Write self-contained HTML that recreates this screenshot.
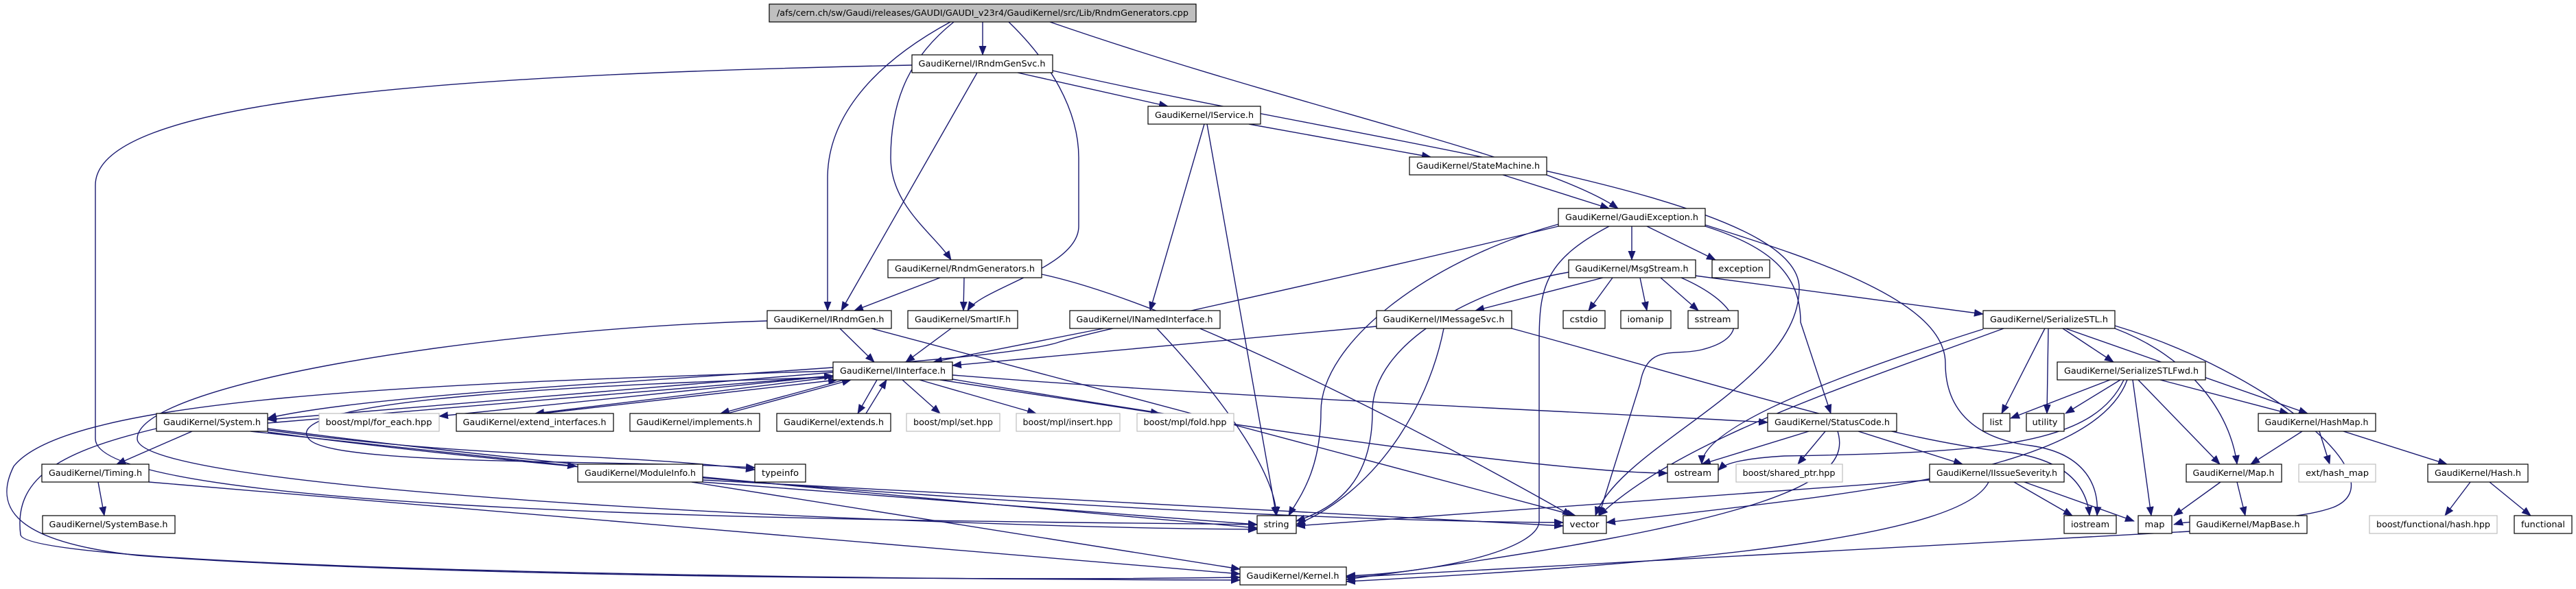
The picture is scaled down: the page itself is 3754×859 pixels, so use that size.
<!DOCTYPE html>
<html><head><meta charset="utf-8"><style>
html,body{margin:0;padding:0;background:#fff;}
svg{display:block}
text{font-family:"DejaVu Sans","Liberation Sans",sans-serif;font-size:12px;fill:#000;}
.e{fill:none;stroke:#191970;stroke-width:1.4;marker-end:url(#a);}
.n{fill:#fff;stroke:#000;stroke-width:1.2;}
.g{fill:#fff;stroke:#bfbfbf;stroke-width:1.2;}
.r{fill:#bfbfbf;stroke:#000;stroke-width:1.2;}
</style></head><body>
<svg width="3754" height="859" viewBox="0 0 3754 859" xmlns="http://www.w3.org/2000/svg">
<defs><marker id="a" markerUnits="userSpaceOnUse" markerWidth="14" markerHeight="11" refX="13" refY="5.5" orient="auto"><path d="M0,0 L14,5.5 L0,11 z" fill="#191970"/></marker></defs>
<g>
<path class="e" d="M1432,32 L1432,80"/>
<path class="e" d="M1385,32 C1260,100 1206,180 1206,260 L1206,453"/>
<path class="e" d="M1390,32 C1330,80 1298,140 1298,230 C1298,300 1360,340 1386,379"/>
<path class="e" d="M1470,32 C1530,90 1572,160 1572,230 L1572,330 C1572,390 1430,420 1410,453"/>
<path class="e" d="M1530,32 C1900,160 2250,230 2358,304"/>
<path class="e" d="M1329,95 C600,110 139,150 139,270 L139,640 C139,760 1500,760 1832,765"/>
<path class="e" d="M1424,106 L1226,453"/>
<path class="e" d="M1483,106 L1702,155"/>
<path class="e" d="M1534,103 C2000,210 2622,280 2622,420 C2622,560 2360,650 2325,752"/>
<path class="e" d="M1820,181 L2085,229"/>
<path class="e" d="M1755,181 L1676,453"/>
<path class="e" d="M1759,181 L1860,752"/>
<path class="e" d="M2190,255 L2345,304"/>
<path class="e" d="M2378,330 L2378,379"/>
<path class="e" d="M2400,330 L2500,379"/>
<path class="e" d="M2271,327 C2080,380 1925,500 1925,600 C1925,690 1890,730 1878,752"/>
<path class="e" d="M2271,330 C1900,420 1600,480 1540,500 C1400,540 600,560 390,610"/>
<path class="e" d="M2485,330 C2580,360 2624,400 2624,470 L2668,603"/>
<path class="e" d="M2485,328 C2650,380 2835,440 2835,530 C2835,600 2880,640 2960,650 C3030,660 3060,700 3056,752"/>
<path class="e" d="M2345,330 C2250,380 2243,420 2243,500 L2243,760 C2243,800 2100,835 1962,840"/>
<path class="e" d="M2350,405 L2315,453"/>
<path class="e" d="M2390,405 L2400,453"/>
<path class="e" d="M2420,405 L2475,453"/>
<path class="e" d="M2336,405 L2150,453"/>
<path class="e" d="M2470,402 L2890,458"/>
<path class="e" d="M2286,397 C2150,420 2000,500 2000,600 C2000,700 1950,740 1889,760"/>
<path class="e" d="M2450,405 C2530,440 2560,490 2480,510 C2440,520 2400,500 2390,560 L2330,752"/>
<path class="e" d="M2203,479 C2500,560 2750,640 2930,660 C3000,670 3040,700 3045,752"/>
<path class="e" d="M2006,476 L1388,533"/>
<path class="e" d="M2104,479 C2080,600 2000,720 1889,765"/>
<path class="e" d="M1608,479 L1360,528"/>
<path class="e" d="M1686,479 C1800,600 1860,700 1860,752"/>
<path class="e" d="M1370,405 L1245,453"/>
<path class="e" d="M1405,405 L1404,453"/>
<path class="e" d="M1518,400 C1750,450 2200,700 2290,752"/>
<path class="e" d="M1224,479 L1274,528"/>
<path class="e" d="M1118,468 C700,480 200,560 200,640 C200,720 1400,770 1832,772"/>
<path class="e" d="M1270,479 L2296,752"/>
<path class="e" d="M1386,479 L1320,528"/>
<path class="e" d="M1214,543 L390,612"/>
<path class="e" d="M390,617 L1214,548"/>
<path class="e" d="M1214,548 L640,607"/>
<path class="e" d="M1214,550 L780,603"/>
<path class="e" d="M790,603 L1220,554"/>
<path class="e" d="M1230,554 L1050,603"/>
<path class="e" d="M1060,603 L1240,554"/>
<path class="e" d="M1278,554 L1250,603"/>
<path class="e" d="M1262,603 L1292,554"/>
<path class="e" d="M1315,554 L1370,603"/>
<path class="e" d="M1340,554 L1510,603"/>
<path class="e" d="M1370,554 L1690,603"/>
<path class="e" d="M1388,547 C1800,580 2300,600 2576,616"/>
<path class="e" d="M1388,553 C1900,640 2300,690 2430,690"/>
<path class="e" d="M1214,541 C600,560 100,580 20,680 C-10,740 20,790 200,810 C600,840 1400,848 1807,842"/>
<path class="e" d="M1214,550 C900,560 400,580 450,640 C480,680 900,670 1100,682"/>
<path class="e" d="M280,629 L170,677"/>
<path class="e" d="M143,703 L152,752"/>
<path class="e" d="M365,629 L840,680"/>
<path class="e" d="M390,627 C700,670 900,660 1100,685"/>
<path class="e" d="M390,625 C800,680 1500,740 1832,770"/>
<path class="e" d="M390,630 C900,700 1800,760 2278,762"/>
<path class="e" d="M228,625 C80,660 20,700 30,780 C40,830 1200,845 1807,846"/>
<path class="e" d="M217,703 L1807,837"/>
<path class="e" d="M1024,703 L1832,765"/>
<path class="e" d="M1024,700 L2278,767"/>
<path class="e" d="M1008,703 L1807,830"/>
<path class="e" d="M2636,629 L2480,677"/>
<path class="e" d="M2660,629 L2620,677"/>
<path class="e" d="M2708,629 L2860,677"/>
<path class="e" d="M2678,629 C2700,700 2600,760 1962,845"/>
<path class="e" d="M2935,703 L3020,752"/>
<path class="e" d="M2950,703 L3110,760"/>
<path class="e" d="M2812,700 L1889,767"/>
<path class="e" d="M2898,703 C2860,780 2500,820 1962,848"/>
<path class="e" d="M3006,479 L3080,528"/>
<path class="e" d="M2980,479 L2917,603"/>
<path class="e" d="M2985,479 L2983,603"/>
<path class="e" d="M3010,479 L3363,603"/>
<path class="e" d="M3082,479 C3190,520 3250,600 3260,677"/>
<path class="e" d="M3082,475 C3300,540 3500,700 3400,740 C3330,765 3200,755 3168,765"/>
<path class="e" d="M2890,480 C2700,540 2480,620 2480,677"/>
<path class="e" d="M2920,479 C2700,560 2450,640 2330,752"/>
<path class="e" d="M3075,554 L2930,610"/>
<path class="e" d="M3090,554 L3010,603"/>
<path class="e" d="M3148,554 L3335,603"/>
<path class="e" d="M3116,554 L3235,677"/>
<path class="e" d="M3108,554 L3135,752"/>
<path class="e" d="M3095,554 C3050,650 2900,660 2600,665 C2520,670 2510,680 2504,686"/>
<path class="e" d="M3100,554 C3050,690 2700,720 2341,762"/>
<path class="e" d="M3355,629 L3280,677"/>
<path class="e" d="M3380,629 L3395,677"/>
<path class="e" d="M3415,629 L3566,677"/>
<path class="e" d="M3236,703 L3168,752"/>
<path class="e" d="M3260,703 L3272,752"/>
<path class="e" d="M3191,775 L1962,842"/>
<path class="e" d="M3600,703 L3563,752"/>
<path class="e" d="M3628,703 L3688,752"/>
</g>
<g text-anchor="middle">
<rect class="r" x="1121" y="6" width="622" height="26"/><text x="1432" y="23" textLength="600" lengthAdjust="spacingAndGlyphs">/afs/cern.ch/sw/Gaudi/releases/GAUDI/GAUDI_v23r4/GaudiKernel/src/Lib/RndmGenerators.cpp</text>
<rect class="n" x="1329" y="80" width="205" height="26"/><text x="1431" y="97" textLength="185" lengthAdjust="spacingAndGlyphs">GaudiKernel/IRndmGenSvc.h</text>
<rect class="n" x="1673" y="155" width="164" height="26"/><text x="1755" y="172" textLength="144" lengthAdjust="spacingAndGlyphs">GaudiKernel/IService.h</text>
<rect class="n" x="2054" y="229" width="200" height="26"/><text x="2154" y="246" textLength="180" lengthAdjust="spacingAndGlyphs">GaudiKernel/StateMachine.h</text>
<rect class="n" x="2271" y="304" width="214" height="26"/><text x="2378" y="321" textLength="194" lengthAdjust="spacingAndGlyphs">GaudiKernel/GaudiException.h</text>
<rect class="n" x="1294" y="379" width="224" height="26"/><text x="1406" y="396" textLength="204" lengthAdjust="spacingAndGlyphs">GaudiKernel/RndmGenerators.h</text>
<rect class="n" x="2286" y="379" width="185" height="26"/><text x="2378" y="396" textLength="165" lengthAdjust="spacingAndGlyphs">GaudiKernel/MsgStream.h</text>
<rect class="n" x="2495" y="379" width="84" height="26"/><text x="2537" y="396" textLength="66" lengthAdjust="spacingAndGlyphs">exception</text>
<rect class="n" x="1118" y="453" width="181" height="26"/><text x="1208" y="470" textLength="161" lengthAdjust="spacingAndGlyphs">GaudiKernel/IRndmGen.h</text>
<rect class="n" x="1323" y="453" width="160" height="26"/><text x="1403" y="470" textLength="140" lengthAdjust="spacingAndGlyphs">GaudiKernel/SmartIF.h</text>
<rect class="n" x="1559" y="453" width="219" height="26"/><text x="1668" y="470" textLength="199" lengthAdjust="spacingAndGlyphs">GaudiKernel/INamedInterface.h</text>
<rect class="n" x="2006" y="453" width="197" height="26"/><text x="2104" y="470" textLength="177" lengthAdjust="spacingAndGlyphs">GaudiKernel/IMessageSvc.h</text>
<rect class="n" x="2278" y="453" width="61" height="26"/><text x="2308" y="470" textLength="41" lengthAdjust="spacingAndGlyphs">cstdio</text>
<rect class="n" x="2362" y="453" width="73" height="26"/><text x="2398" y="470" textLength="53" lengthAdjust="spacingAndGlyphs">iomanip</text>
<rect class="n" x="2460" y="453" width="73" height="26"/><text x="2496" y="470" textLength="53" lengthAdjust="spacingAndGlyphs">sstream</text>
<rect class="n" x="2890" y="453" width="192" height="26"/><text x="2986" y="470" textLength="172" lengthAdjust="spacingAndGlyphs">GaudiKernel/SerializeSTL.h</text>
<rect class="n" x="1214" y="528" width="174" height="26"/><text x="1301" y="545" textLength="154" lengthAdjust="spacingAndGlyphs">GaudiKernel/IInterface.h</text>
<rect class="n" x="2998" y="528" width="216" height="26"/><text x="3106" y="545" textLength="196" lengthAdjust="spacingAndGlyphs">GaudiKernel/SerializeSTLFwd.h</text>
<rect class="n" x="228" y="603" width="162" height="26"/><text x="309" y="620" textLength="142" lengthAdjust="spacingAndGlyphs">GaudiKernel/System.h</text>
<rect class="g" x="465" y="603" width="175" height="26"/><text x="552" y="620" textLength="155" lengthAdjust="spacingAndGlyphs">boost/mpl/for_each.hpp</text>
<rect class="n" x="665" y="603" width="229" height="26"/><text x="779" y="620" textLength="209" lengthAdjust="spacingAndGlyphs">GaudiKernel/extend_interfaces.h</text>
<rect class="n" x="918" y="603" width="189" height="26"/><text x="1012" y="620" textLength="169" lengthAdjust="spacingAndGlyphs">GaudiKernel/implements.h</text>
<rect class="n" x="1132" y="603" width="166" height="26"/><text x="1215" y="620" textLength="146" lengthAdjust="spacingAndGlyphs">GaudiKernel/extends.h</text>
<rect class="g" x="1321" y="603" width="136" height="26"/><text x="1389" y="620" textLength="116" lengthAdjust="spacingAndGlyphs">boost/mpl/set.hpp</text>
<rect class="g" x="1481" y="603" width="151" height="26"/><text x="1556" y="620" textLength="131" lengthAdjust="spacingAndGlyphs">boost/mpl/insert.hpp</text>
<rect class="g" x="1657" y="603" width="141" height="26"/><text x="1727" y="620" textLength="121" lengthAdjust="spacingAndGlyphs">boost/mpl/fold.hpp</text>
<rect class="n" x="2576" y="603" width="188" height="26"/><text x="2670" y="620" textLength="168" lengthAdjust="spacingAndGlyphs">GaudiKernel/StatusCode.h</text>
<rect class="n" x="2890" y="603" width="39" height="26"/><text x="2909" y="620" textLength="19" lengthAdjust="spacingAndGlyphs">list</text>
<rect class="n" x="2953" y="603" width="55" height="26"/><text x="2980" y="620" textLength="37" lengthAdjust="spacingAndGlyphs">utility</text>
<rect class="n" x="3291" y="603" width="171" height="26"/><text x="3376" y="620" textLength="151" lengthAdjust="spacingAndGlyphs">GaudiKernel/HashMap.h</text>
<rect class="n" x="61" y="677" width="156" height="26"/><text x="139" y="694" textLength="136" lengthAdjust="spacingAndGlyphs">GaudiKernel/Timing.h</text>
<rect class="n" x="842" y="677" width="182" height="26"/><text x="933" y="694" textLength="162" lengthAdjust="spacingAndGlyphs">GaudiKernel/ModuleInfo.h</text>
<rect class="n" x="1100" y="677" width="74" height="26"/><text x="1137" y="694" textLength="54" lengthAdjust="spacingAndGlyphs">typeinfo</text>
<rect class="n" x="2430" y="677" width="74" height="26"/><text x="2467" y="694" textLength="54" lengthAdjust="spacingAndGlyphs">ostream</text>
<rect class="g" x="2530" y="677" width="155" height="26"/><text x="2607" y="694" textLength="135" lengthAdjust="spacingAndGlyphs">boost/shared_ptr.hpp</text>
<rect class="n" x="2812" y="677" width="196" height="26"/><text x="2910" y="694" textLength="176" lengthAdjust="spacingAndGlyphs">GaudiKernel/IIssueSeverity.h</text>
<rect class="n" x="3186" y="677" width="139" height="26"/><text x="3255" y="694" textLength="119" lengthAdjust="spacingAndGlyphs">GaudiKernel/Map.h</text>
<rect class="g" x="3350" y="677" width="112" height="26"/><text x="3406" y="694" textLength="92" lengthAdjust="spacingAndGlyphs">ext/hash_map</text>
<rect class="n" x="3538" y="677" width="146" height="26"/><text x="3611" y="694" textLength="126" lengthAdjust="spacingAndGlyphs">GaudiKernel/Hash.h</text>
<rect class="n" x="62" y="752" width="193" height="26"/><text x="158" y="769" textLength="173" lengthAdjust="spacingAndGlyphs">GaudiKernel/SystemBase.h</text>
<rect class="n" x="1832" y="752" width="57" height="26"/><text x="1860" y="769" textLength="37" lengthAdjust="spacingAndGlyphs">string</text>
<rect class="n" x="2278" y="752" width="63" height="26"/><text x="2309" y="769" textLength="43" lengthAdjust="spacingAndGlyphs">vector</text>
<rect class="n" x="3008" y="752" width="76" height="26"/><text x="3046" y="769" textLength="56" lengthAdjust="spacingAndGlyphs">iostream</text>
<rect class="n" x="3116" y="752" width="49" height="26"/><text x="3140" y="769" textLength="29" lengthAdjust="spacingAndGlyphs">map</text>
<rect class="n" x="3191" y="752" width="171" height="26"/><text x="3276" y="769" textLength="151" lengthAdjust="spacingAndGlyphs">GaudiKernel/MapBase.h</text>
<rect class="g" x="3453" y="752" width="186" height="26"/><text x="3546" y="769" textLength="166" lengthAdjust="spacingAndGlyphs">boost/functional/hash.hpp</text>
<rect class="n" x="3664" y="752" width="84" height="26"/><text x="3706" y="769" textLength="64" lengthAdjust="spacingAndGlyphs">functional</text>
<rect class="n" x="1807" y="827" width="155" height="26"/><text x="1884" y="844" textLength="135" lengthAdjust="spacingAndGlyphs">GaudiKernel/Kernel.h</text>
</g>
</svg>
</body></html>
